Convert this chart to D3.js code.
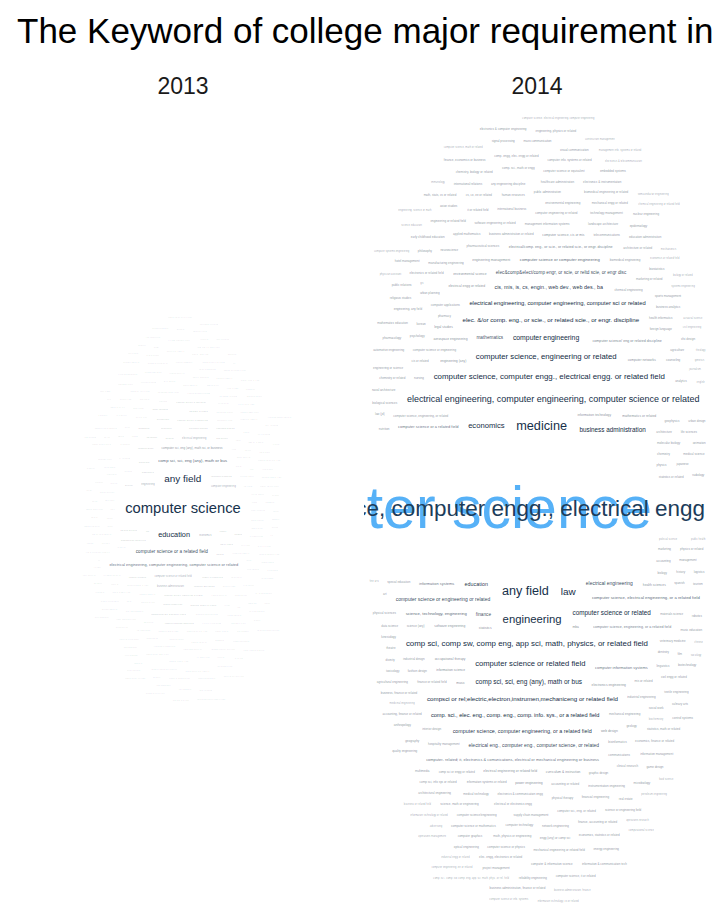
<!DOCTYPE html>
<html><head><meta charset="utf-8">
<script src="https://cdn.jsdelivr.net/npm/d3@7/dist/d3.min.js"></script>
<style>html,body{margin:0;padding:0;background:#fff;} svg{display:block;font-family:"Liberation Sans",Arial,Helvetica,sans-serif;}</style>
</head><body><svg id="chart" width="720" height="921"></svg>
<script>
const chartTitle = "The Keyword of college major requirement in";
const years = ["2013", "2014"];

const major2013Words = [
  "computer science", "any field", "education", "computer science or a related field",
  "comp sci, sci, eng (any), math or bus",
  "electrical engineering, computer engineering, computer science or related",
  "computer sci, eng (any), math sci, or business", "computer science or related field",
  "economics", "electrical engineering", "engineering", "business administration",
  "computer engineering", "information technology", "mathematics", "medicine", "law",
  "finance", "information systems", "computer science, engineering or related",
  "computer science or engineering"
];
const major2013Counts = [97, 44, 24, 10, 8, 7, 4, 3, 3, 3, 3, 3, 3, 2, 2, 2, 2, 2, 2, 2, 2];

const major2014Words = [
  "computer science", "computer science, computer engg., electrical engg",
  "medicine", "any field", "engineering", "law",
  "electrical engineering, computer engineering, computer science or related",
  "computer science, computer engg., electrical engg. or related field",
  "comp sci, comp sw, comp eng, app sci, math, physics, or related field",
  "computer science, engineering or related", "computer science or related field", "economics",
  "computer engineering", "comp sci, sci, eng (any), math or bus", "business administration",
  "computer science or related",
  "elec. &/or comp. eng., or scie., or related scie., or engr. discipline",
  "compsci or rel;electric,electron,instrumen,mechaniceng or related field",
  "electrical engineering, computer engineering, computer sci or related",
  "comp. sci., elec. eng., comp. eng., comp. info. sys., or a related field",
  "education", "cis, mis, is, cs, engin., web dev., web des., ba",
  "computer science, computer engineering, or a related field", "electrical engineering",
  "computer science or engineering or related",
  "electrical eng., computer eng., computer science, or related",
  "elec&comp&elect/comp engr, or scie, or reltd scie, or engr disc", "finance", "mathematics",
  "computer science, electrical engineering, or a related field", "science, technology, engineering",
  "computer science or computer engineering", "computer science or a related field",
  "computer information systems",
  "computer- related; it, electronics & comunications, electrical or mechanical engineering or business",
  "information systems", "computer science, engineering, or a related field",
  "computer science/ eng or related discipline",
  "electrical/comp. eng., or scie., or related scie., or engr. discipline",
  "information technology", "statistics", "software engineering",
  "computer science, engineering, or related", "computer science or engineering",
  "business administration or related", "political science", "medicinal engineering",
  "computer science, electrical engineering, computer engineering",
  "comp. sci., comp. sw, comp. eng, app. sci, math, phys., or rel. field"
];
const major2014Counts = [1550, 225, 72, 71, 57, 44, 36, 28, 28, 27, 26, 26, 21, 19, 18, 18, 17, 17, 15, 14,
  13, 13, 13, 11, 11, 11, 10, 10, 10, 8, 8, 8, 7, 7, 7, 7, 6, 6, 6, 5, 5, 5, 4, 4, 4, 3, 3, 3, 3];

const minorWords = [
  "mechanical engineering", "information technology or related", "computer applications", "management information systems",
  "electronics engineering", "electronics & communication engg", "business administration, finance", "finance or related field",
  "accounting", "accounting or related", "marketing", "economics or related field", "statistics or related",
  "mathematics or related", "physics", "chemistry", "biology", "biochemistry", "molecular biology", "pharmacy",
  "pharmaceutical sciences", "architecture", "civil engineering", "industrial engineering", "chemical engineering",
  "computer engineering or related", "information systems or related", "engineering (any)", "science (any)",
  "operations research", "software engineering or related", "electrical or electronics engg", "mis or related",
  "cis or related", "bioinformatics", "public health", "nursing", "physical therapy", "occupational therapy",
  "special education", "fine arts", "graphic design", "industrial design", "fashion design", "communications",
  "journalism", "international business", "hospitality management", "supply chain management", "materials science",
  "aerospace engineering", "biomedical engineering", "environmental engineering", "petroleum engineering", "geology",
  "geophysics", "computer sci., eng. or related", "comp sci or engg or related", "electronics & telecommunication",
  "instrumentation engineering", "manufacturing engineering", "telecommunications", "information science",
  "applied mathematics", "actuarial science", "financial engineering", "medical technology", "dentistry",
  "veterinary medicine", "psychology", "sociology", "urban planning", "landscape architecture", "interior design",
  "music", "linguistics", "foreign language", "chinese", "japanese", "korean", "spanish", "english", "history",
  "public administration", "human resources", "computer technology", "network engineering",
  "systems engineering", "engineering management", "technology management", "healthcare administration",
  "health informatics", "clinical research", "neuroscience", "genetics", "it or related field",
  "any engineering discipline", "computer science/engineering", "math, physics or engineering",
  "computer science, math or related", "electronics or related field", "engg (any) or comp sci",
  "science, math or engineering", "business or related field", "finance, accounting or related", "mba", "management",
  "marketing or related", "economics, finance or related", "biology or related", "chemistry or related",
  "physics or related", "social work", "counseling", "architecture or related", "civil engg or related",
  "industrial engg or related", "mechanical engg or related", "electrical engg or related",
  "computer science or equivalent", "computer science or info. systems", "cs, ce, ee or related",
  "comp. sci., math or engg", "engineering or related field", "engineering, any field", "business, finance or related",
  "information technology, cs or related", "comp sci, info sys or related", "computer science or mathematics",
  "computer science or physics", "electrical engineering or related field", "mechanical engineering or related field",
  "chemical engineering or related field", "biomedical engineering or related", "statistics, math or related",
  "economics, statistics or related", "accounting, finance or related", "computer info. systems or related",
  "management info. systems or related", "comp. engg, elec. engg or related", "elec. engg, electronics or related",
  "engineering or science", "engineering, science or math", "science or engineering field", "health sciences",
  "medical science", "biological sciences", "life sciences", "physical sciences", "computational science",
  "data science", "analytics", "business analytics", "information management", "computer & information science",
  "computer networks", "electronics & instrumentation", "mechatronics", "automotive engineering", "naval architecture",
  "textile engineering", "agricultural engineering", "agriculture", "food science", "nutrition", "kinesiology",
  "sports management", "education administration", "curriculum & instruction", "early childhood education",
  "mathematics education", "science education", "music education", "art", "film", "theatre",
  "architectural engineering", "construction management", "real estate", "urban design", "environmental science",
  "chemistry, biology or related", "pharmacology", "toxicology", "immunology", "microbiology", "biotechnology",
  "biostatistics", "epidemiology", "radiology", "physician assistant", "law (jd)", "legal studies",
  "international relations", "asian studies", "philosophy", "theology", "divinity", "religious studies",
  "anthropology", "geography", "gis", "computer graphics", "multimedia", "animation", "game design", "web design",
  "visual communication", "advertising", "public relations", "mass communication", "hotel management", "tourism",
  "culinary arts", "logistics", "operations management", "project management", "quality engineering",
  "reliability engineering", "power engineering", "energy engineering", "nuclear engineering", "optical engineering",
  "semiconductor engineering", "vlsi design", "embedded systems", "control systems", "signal processing", "robotics",
  "computer engineering, ee or related", "computer science, it or related", "computer science, cis or mis",
  "math, stats, cs or related", "engineering, physics or related", "finance, economics or business",
  "business administration, finance or related", "computer systems engineering", "information & communication tech",
  "electronics & computer engineering"
];
const minor2013Counts = [
  1,1,2,1,1,1,1,2,1,1,0,1,1,1,2,1,1,1,1,1, 1,2,1,1,1,0,1,1,1,1,1,1,2,1,1,1,1,1,0,1,
  1,1,1,1,2,1,1,1,1,1,1,1,1,1,1,2,1,1,1,1, 2,1,1,0,1,1,1,1,1,2,1,1,1,1,1,1,1,0,1,1,
  1,1,1,1,1,1,2,1,1,1,1,1,1,2,1,1,1,1,1,1, 1,1,0,1,1,1,1,1,1,1,2,1,1,1,1,1,0,1,1,2,
  1,1,1,1,1,2,1,1,1,1,1,1,1,1,1,1,1,1,2,1, 1,0,1,1,1,1,1,1,2,1,1,1,1,0,1,1,1,1,1,1,
  1,1,1,2,1,1,1,1,1,1,1,1,2,1,1,1,1,1,1,0, 1,1,1,1,1,1,1,2,1,1,1,0,1,1,1,1,2,1,1,1,
  1,1,2,1,1,1,1,1,1,1,1,1,1,1,2,1,1,1,0,1, 1,1,1,1,1,2,1,1,1,1,1,1,1,1,1,1,2,1,1,1
];
const minor2014Counts = [
  4,3,4,4,5,4,3,4,4,4,4,3,4,5,4,4,4,3,4,4, 4,4,3,4,4,4,4,5,4,3,4,4,4,4,4,3,4,4,5,4,
  3,4,4,4,4,3,4,4,4,4,5,4,4,3,4,4,4,4,3,4, 4,4,5,4,3,4,4,4,4,4,3,4,4,4,5,4,4,3,4,4,
  4,3,4,4,4,4,4,3,5,4,4,4,4,4,3,4,4,4,4,3, 4,4,4,3,4,5,4,4,4,3,4,4,4,4,4,4,3,4,5,4,
  3,4,4,4,4,4,3,4,4,4,5,4,3,4,4,4,4,4,3,4, 4,4,3,4,5,4,4,4,4,3,4,4,4,4,4,5,4,3,4,4,
  4,4,4,3,4,4,4,4,5,4,4,3,4,4,4,4,4,3,4,4, 5,4,4,4,3,4,4,4,4,4,3,4,5,4,4,4,3,4,4,4,
  4,3,4,4,4,4,5,4,3,4,4,4,4,4,4,3,4,4,4,5, 4,4,4,3,4,4,4,4,4,3,4,5,4,4,4,4,3,4,4,4
];

// ---------------- drawing ----------------
const W = 720, H = 921;
const svg = d3.select("#chart");

const allCounts = major2013Counts.concat(major2014Counts,
  minor2013Counts.filter(c => c > 0), minor2014Counts.filter(c => c > 0));
const nMax = d3.max(allCounts), nMin = d3.min(allCounts);
const sizeScale = d3.scaleSqrt().domain([0, nMax]).range([0, 59]);
const colorScale = d3.scaleLinear().domain([nMin, nMax])
  .range(["#132B43", "#56B1F7"]).interpolate(d3.interpolateLab);
// very small glyphs render faint (as in the anti-aliased reference)
const inkScale = d3.scaleLinear().domain([1.5, 5.5]).range([0.2, 1]).clamp(true);

const panelX = d3.scaleBand().domain(years).range([10, 710]).paddingInner(0.023);
const panelY = d3.scaleLinear().domain([0, 1]).range([104, 912]);

const ctx = document.createElement("canvas").getContext("2d");
ctx.font = '100px "Liberation Sans"';
const measure = t => ctx.measureText(t).width / 100;

function buildWords(words, counts, minorCounts) {
  const ws = words.map((t, i) => ({ text: t, n: counts[i] }));
  minorWords.forEach((t, i) => { if (minorCounts[i] > 0) ws.push({ text: t, n: minorCounts[i] }); });
  return ws.sort((a, b) => b.n - a.n);
}

// overflow (too-wide) words: right end offset from the panel centre, as a layout rule
const overflowEnds = [115, 168];

function layoutCloud(words, b, k) {
  const cx = (b.x0 + b.x1) / 2, cy = (b.y0 + b.y1) / 2;
  const cell = 12, gw = Math.ceil(W / cell) + 2, gh = Math.ceil(H / cell) + 2;
  const grid = Array.from({ length: gw * gh }, () => []);
  const cl = (v, m) => Math.max(0, Math.min(m - 1, v));
  function cellsOf(bx, f) {
    const i0 = cl(Math.floor(bx.x0 / cell), gw), i1 = cl(Math.floor(bx.x1 / cell), gw);
    const j0 = cl(Math.floor(bx.y0 / cell), gh), j1 = cl(Math.floor(bx.y1 / cell), gh);
    for (let j = j0; j <= j1; j++) for (let i = i0; i <= i1; i++) if (f(grid[j * gw + i])) return true;
    return false;
  }
  const hit = bx => cellsOf(bx, arr => {
    for (const o of arr) if (o.x0 < bx.x1 && o.x1 > bx.x0 && o.y0 < bx.y1 && o.y1 > bx.y0) return true;
    return false;
  });
  const add = bx => cellsOf(bx, arr => { arr.push(bx); return false; });
  const placed = [];
  let ov = 0;
  const rMax = Math.max((b.x1 - b.x0) / 2, (b.y1 - b.y0) / 2 / k) * 1.4 + 20;
  for (const w of words) {
    w.size = sizeScale(w.n);
    w.width = measure(w.text) * w.size;
    const padX = 3.5 + w.size * 0.2, padY = 2.2 + w.size * 0.4;
    const bw = w.width + 2 * padX, bh = w.size * 1.2 + 2 * padY;
    if (bw > b.x1 - b.x0) {
      const end = cx + overflowEnds[Math.min(ov, overflowEnds.length - 1)];
      ov++;
      w.anchor = "end"; w.x = end; w.y = cy;
      add({ x0: Math.max(b.x0, end - w.width), x1: Math.min(b.x1, end), y0: cy - w.size * 1.15, y1: cy + w.size * 1.15 });
      placed.push(w);
      continue;
    }
    let theta = 0;
    while (true) {
      const r = 3 * theta / (2 * Math.PI);
      if (r > rMax) break;
      const x = cx + r * Math.cos(theta), y = cy - k * r * Math.sin(theta);
      const bx = { x0: x - bw / 2, x1: x + bw / 2, y0: y - bh / 2, y1: y + bh / 2 };
      if (bx.x0 >= b.x0 && bx.x1 <= b.x1 && bx.y0 >= b.y0 && bx.y1 <= b.y1 && !hit(bx)) {
        add(bx); w.x = x; w.y = y; w.anchor = "middle"; placed.push(w); break;
      }
      theta += Math.min(0.5, 2 / (Math.max(r, 1) * k));
    }
  }
  return placed;
}

// title
svg.append("text").attr("x", 17).attr("y", 43).attr("font-size", 35).attr("fill", "#000")
  .text(chartTitle);

const panelData = {
  "2013": buildWords(major2013Words, major2013Counts, minor2013Counts),
  "2014": buildWords(major2014Words, major2014Counts, minor2014Counts)
};

years.forEach(yr => {
  const b = { x0: panelX(yr), x1: panelX(yr) + panelX.bandwidth(), y0: panelY(0), y1: panelY(1) };
  svg.append("text").attr("x", (b.x0 + b.x1) / 2).attr("y", 94).attr("text-anchor", "middle")
    .attr("font-size", 23).attr("fill", "#1a1a1a").text(yr);
  const clipId = "clip" + yr;
  svg.append("clipPath").attr("id", clipId).append("rect")
    .attr("x", b.x0).attr("y", b.y0).attr("width", b.x1 - b.x0).attr("height", b.y1 - b.y0);
  const placed = layoutCloud(panelData[yr], b, yr === "2014" ? 2.1 : 1.85);
  svg.append("g").attr("clip-path", `url(#${clipId})`)
    .selectAll("text").data(placed).join("text")
    .attr("x", d => d.x).attr("y", d => d.y + d.size * 0.34)
    .attr("text-anchor", d => d.anchor)
    .attr("font-size", d => d.size)
    .attr("fill", d => colorScale(d.n))
    .attr("fill-opacity", d => inkScale(d.size))
    .text(d => d.text);
});
</script>
</body></html>
